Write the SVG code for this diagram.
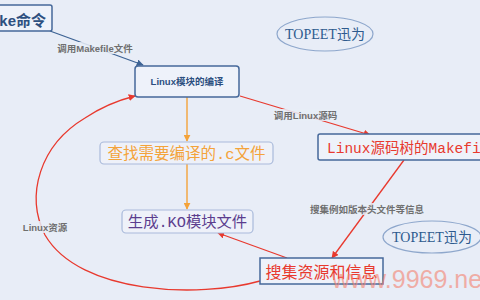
<svg xmlns="http://www.w3.org/2000/svg" width="480" height="300" viewBox="0 0 480 300">
<defs>
<style>
.bg{fill:#e8edf7}
.box{fill:#eef2fa;stroke:#45689a;stroke-width:1.5}
.sbox{fill:#eef1f9;stroke:#a9badb;stroke-width:1.2}
.ell{fill:#e8edf7;stroke:#8ea7cc;stroke-width:1.2}
.lab{font-family:"Liberation Sans","Noto Sans CJK SC",sans-serif;font-size:9.5px;font-weight:bold;fill:#6f6f6f;text-anchor:middle}
.labbg{fill:#e8edf7;opacity:0.85}
.mono{font-family:"Liberation Mono","Noto Sans CJK SC",monospace;text-anchor:middle}
.serif{font-family:"Liberation Serif","Noto Sans CJK SC",serif;font-size:14px;fill:#2d5a8e;text-anchor:middle}
.blue{stroke:#3d6394;stroke-width:1.3;fill:none}
.red{stroke:#e8392e;stroke-width:1.3;fill:none}
.org{stroke:#f4a33a;stroke-width:1.4;fill:none}
</style>
<marker id="ab" viewBox="0 0 10 10" refX="9" refY="5" markerWidth="7" markerHeight="7" markerUnits="userSpaceOnUse" orient="auto"><path d="M0,0 L10,5 L0,10 z" fill="#3d6394"/></marker>
<marker id="ar" viewBox="0 0 10 10" refX="9" refY="5" markerWidth="7" markerHeight="7" markerUnits="userSpaceOnUse" orient="auto"><path d="M0,0 L10,5 L0,10 z" fill="#e8392e"/></marker>
<marker id="ao" viewBox="0 0 10 10" refX="9" refY="5" markerWidth="7" markerHeight="7" markerUnits="userSpaceOnUse" orient="auto"><path d="M0,0 L10,5 L0,10 z" fill="#f4a33a"/></marker>
</defs>
<rect class="bg" x="0" y="0" width="480" height="300"/>

<g id="connectors">
<line class="blue" x1="50" y1="31" x2="143" y2="65" marker-end="url(#ab)"/>
<line class="red" x1="240" y1="96" x2="370" y2="135" marker-end="url(#ar)"/>
<line class="org" x1="187" y1="97" x2="187" y2="141" marker-end="url(#ao)"/>
<line class="org" x1="187" y1="164" x2="187" y2="209" marker-end="url(#ao)"/>
<line class="red" x1="404" y1="160" x2="332" y2="258" marker-end="url(#ar)"/>
<line class="red" x1="287" y1="258" x2="218" y2="233" marker-end="url(#ar)"/>
<path class="red" d="M260,281 C200,298 80,295 45,235 C25,195 40,145 85,118 C100,108 115,101 135,96" marker-end="url(#ar)"/>
<rect class="labbg" x="56" y="42" width="80" height="12"/>
<text class="lab" x="95" y="51.5">调用Makefile文件</text>
<rect class="labbg" x="273" y="109" width="65" height="12"/>
<text class="lab" x="305.5" y="118.5">调用Linux源码</text>
<rect class="labbg" x="309" y="203" width="116" height="12"/>
<text class="lab" x="367" y="212.5">搜集例如版本头文件等信息</text>
<rect class="labbg" x="22" y="221" width="46" height="12"/>
<text class="lab" x="45" y="230.5">Linux资源</text>
</g>

<g id="make">
<rect class="box" x="-30" y="5" width="82" height="26" rx="2"/>
<text x="46" y="26" font-family="Liberation Sans,'Noto Sans CJK SC',sans-serif" font-size="15" font-weight="bold" fill="#2d5080" text-anchor="end">make命令</text>
</g>

<g id="compile">
<rect class="box" x="135" y="66" width="104" height="31" rx="3"/>
<text x="187" y="85" font-family="Liberation Sans,'Noto Sans CJK SC',sans-serif" font-size="9.5" font-weight="bold" fill="#2c4f80" text-anchor="middle">Linux模块的编译</text>
</g>

<g id="topeet1">
<ellipse class="ell" cx="325" cy="34" rx="48" ry="17"/>
<text class="serif" x="325" y="39">TOPEET迅为</text>
</g>

<g id="makefile">
<rect class="box" x="318" y="134" width="180" height="26" rx="2"/>
<text class="mono" x="327" y="153" font-size="14.5" fill="#e8392e" style="text-anchor:start">Linux源码树的Makefile</text>
</g>

<g id="find">
<rect class="sbox" x="100" y="142" width="173" height="22" rx="4"/>
<text class="mono" x="186.5" y="159" font-size="15.5" fill="#f4a33a">查找需要编译的.c文件</text>
</g>

<g id="gen">
<rect class="sbox" x="122" y="210" width="131" height="23" rx="4"/>
<text class="mono" x="187.5" y="227" font-size="15.3" fill="#5b3d8e">生成.KO模块文件</text>
</g>

<g id="collect">
<rect class="box" x="260" y="258" width="123" height="26"/>
<text class="mono" x="321.5" y="278" font-size="16" fill="#e8392e">搜集资源和信息</text>
</g>

<g id="topeet2">
<ellipse class="ell" cx="432" cy="237" rx="49" ry="16"/>
<text class="serif" x="432" y="242">TOPEET迅为</text>
</g>

<text x="332" y="288" font-family="Liberation Sans,sans-serif" font-size="25" fill="#f4826f" opacity="0.6">www.9969.net</text>
</svg>
